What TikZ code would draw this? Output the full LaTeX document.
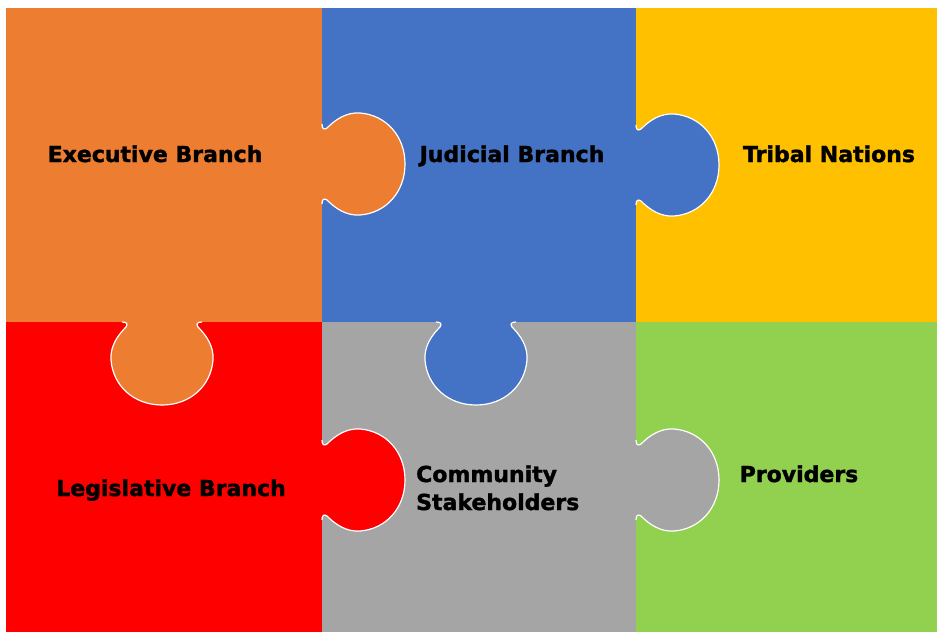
\documentclass[tikz,border=0pt]{standalone}
\usepackage{fontspec}
\setmainfont{DejaVu Sans}[BoldFeatures={FakeBold=1.6}]
\definecolor{pOrange}{HTML}{ED7D31}
\definecolor{pBlue}{HTML}{4472C4}
\definecolor{pYellow}{HTML}{FFC000}
\definecolor{pRed}{HTML}{FF0000}
\definecolor{pGray}{HTML}{A5A5A5}
\definecolor{pGreen}{HTML}{92D050}
\tikzset{
  lbl/.style={font=\bfseries\fontsize{22}{28}\selectfont, text=black, inner sep=0pt},
  tabline/.style={draw=white, line width=1.2pt},
}
\def\tabcurve{(0,-40) .. controls (0,-35) and (2,-34) .. (5,-36) .. controls (13,-44) and (24,-52) .. (38,-51) .. controls (64,-49) and (83,-28) .. (83,0) .. controls (83,28) and (64,49) .. (38,51) .. controls (24,52) and (13,44) .. (5,36) .. controls (2,34) and (0,35) .. (0,40)}
\newcommand{\rtab}[3]{%
  \begin{scope}[shift={(#1,#2)}, x={(1pt,0pt)}, y={(0pt,-1pt)}]
    \fill[#3] \tabcurve -- cycle;
    \draw[tabline] \tabcurve;
  \end{scope}}
\newcommand{\dtab}[3]{%
  \begin{scope}[shift={(#2,#1)}, x={(0pt,-1pt)}, y={(1pt,0pt)}]
    \fill[#3] \tabcurve -- cycle;
    \draw[tabline] \tabcurve;
  \end{scope}}
\begin{document}
\begin{tikzpicture}[x=1pt,y=-1pt]
\useasboundingbox (0,0) rectangle (937,632);
% pieces
\fill[pOrange] (6,8) rectangle (322,322);
\fill[pBlue] (322,8) rectangle (636,322);
\fill[pYellow] (636,8) rectangle (937,322);
\fill[pRed] (6,322) rectangle (322,632);
\fill[pGray] (322,322) rectangle (636,632);
\fill[pGreen] (636,322) rectangle (937,632);
% tabs
\rtab{322}{164}{pOrange}
\dtab{322}{162}{pOrange}
\rtab{636}{165}{pBlue}
\dtab{322}{476}{pBlue}
\rtab{322}{480}{pRed}
\rtab{636}{480}{pGray}
% labels
\node[lbl, anchor=base] (exe) at (155,162) {Executive Branch};
\node[lbl, anchor=base] (jud) at (512,162) {Judicial Branch};
\node[lbl, anchor=base] (tri) at (829,162) {Tribal Nations};
\node[lbl, anchor=base] (leg) at (171,496) {Legislative Branch};
\node[lbl, anchor=base west] (com1) at (416,482) {Community};
\node[lbl, anchor=base west] (com2) at (416,510) {Stakeholders};
\node[lbl, anchor=base] (pro) at (799,482) {Providers};
\end{tikzpicture}
\end{document}
